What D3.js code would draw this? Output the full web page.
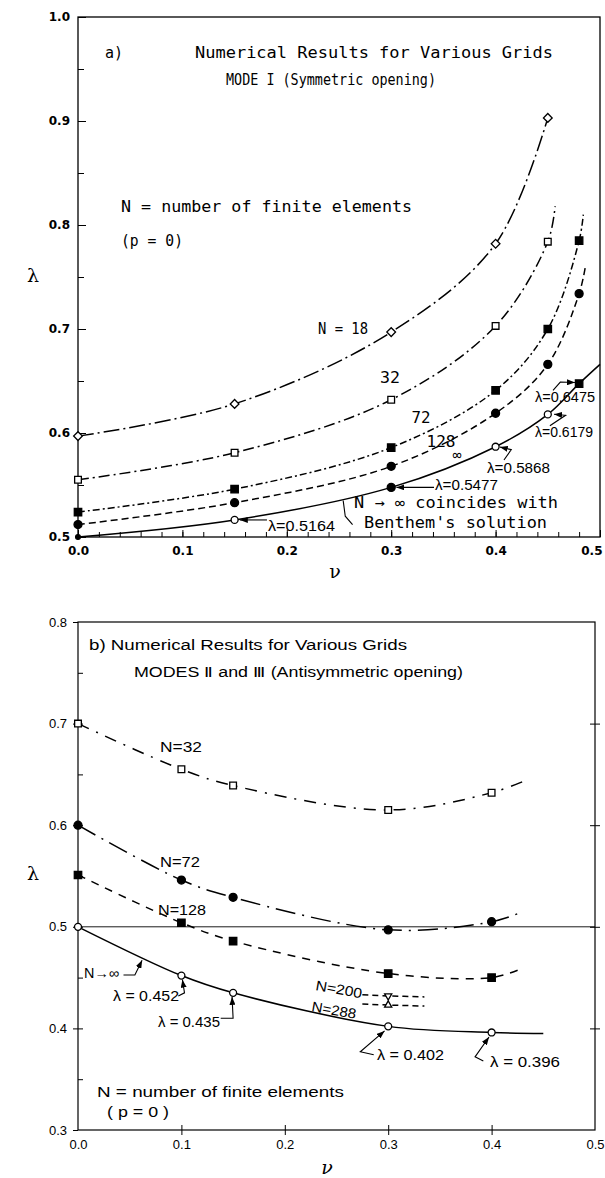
<!DOCTYPE html>
<html>
<head>
<meta charset="utf-8">
<script src="https://cdn.jsdelivr.net/npm/d3@7"></script>
<style>
  body { margin: 0; background: #fff; }
  svg { display: block; }
  .mono { font-family: "DejaVu Sans Mono", monospace; font-size: 15px; }
  .thin { font-family: "Liberation Sans", Arial, sans-serif; font-size: 14px; }
  .tickA text { font-family: "DejaVu Sans", sans-serif; font-weight: bold; font-size: 12px; }
  .tickB text { font-family: "Liberation Sans", Arial, sans-serif; font-size: 13px; }
</style>
</head>
<body>
<div id="chart"></div>
<script>
(function () {

  const width = 605
  const height = 1178

  // a) MODE I -- nu values where the grids were computed
  const nuA = [0, 0.15, 0.3, 0.4, 0.45, 0.48]
  const lamA18 = [0.597, 0.628, 0.697, 0.782, 0.903]
  const lamA32 = [0.555, 0.581, 0.632, 0.703, 0.784]
  const lamA72 = [0.524, 0.546, 0.586, 0.641, 0.700, 0.785]
  const lamA128 = [0.512, 0.533, 0.568, 0.619, 0.666, 0.734]
  const lamAinf = [0.5, 0.5164, 0.5477, 0.5868, 0.6179, 0.6475]
  // where the drawn curves run on past the last symbol
  const tailA32 = [0.457, 0.818]
  const tailA72 = [0.484, 0.81]
  const tailA128 = [0.486, 0.76]
  const tailAinf = [0.5, 0.666]
  const symAinf = ['dot', 'circleOpen', 'circleFilled', 'circleOpen', 'circleOpen', 'squareFilled']

  // b) MODES II and III
  const nuB = [0, 0.1, 0.15, 0.3, 0.4]
  const lamB32 = [0.700, 0.655, 0.639, 0.615, 0.632]
  const lamB72 = [0.600, 0.546, 0.529, 0.497, 0.505]
  const lamB128 = [0.551, 0.504, 0.486, 0.454, 0.450]
  const lamBinf = [0.5, 0.452, 0.435, 0.402, 0.396]
  const tailB32 = [0.435, 0.645]
  const tailB72 = [0.428, 0.514]
  const tailB128 = [0.427, 0.458]
  const tailBinf = [0.45, 0.395]
  const nuB200 = [0.275, 0.3, 0.335]
  const lamB200 = [0.433, 0.432, 0.431]
  const lamB288 = [0.424, 0.423, 0.422]
  const symB200 = [null, 'triDown', null]
  const symB288 = [null, 'triUp', null]

  const xTickLabels = [0, 0.1, 0.2, 0.3, 0.4, 0.5]

  const svg = d3.select("#chart").append("svg")
      .attr("width", width)
      .attr("height", height)

  svg.append("defs").append("marker")
      .attr("id", "arrow")
      .attr("markerUnits", "userSpaceOnUse")
      .attr("markerWidth", 8).attr("markerHeight", 6)
      .attr("refX", 8).attr("refY", 3)
      .attr("orient", "auto")
    .append("path")
      .attr("d", "M0,0L8,3L0,6Z")
      .attr("fill", "black")

  // scales for both panels
  const xA = d3.scaleLinear().domain([0, 0.5]).range([78, 600])
  const yA = d3.scaleLinear().domain([0.5, 1.0]).range([537, 17])
  const xB = d3.scaleLinear().domain([0, 0.5]).range([78, 595])
  const yB = d3.scaleLinear().domain([0.3, 0.8]).range([1130, 622])

  // type, size, filled, rotation
  const symbols = {
    diamond: [d3.symbolSquare, 38, false, 45],
    squareOpen: [d3.symbolSquare, 45, false, 0],
    squareFilled: [d3.symbolSquare, 55, true, 0],
    circleFilled: [d3.symbolCircle, 50, true, 0],
    circleOpen: [d3.symbolCircle, 38, false, 0],
    dot: [d3.symbolCircle, 18, true, 0],
    triDown: [d3.symbolTriangle, 22, false, 180],
    triUp: [d3.symbolTriangle, 22, false, 0]
  }

  function series (g, x, y, nus, lams, tail, dash, sym) {
    let pts = lams.map((l, i) => ({ v: nus[i], l: l, s: Array.isArray(sym) ? sym[i] : sym }))
    let line = pts.map(d => [d.v, d.l])
    if (tail) line.push(tail)
    g.append("path")
      .datum(line)
      .attr("d", d3.line().x(d => x(d[0])).y(d => y(d[1])).curve(d3.curveCatmullRom.alpha(0.5)))
      .attr("fill", "none")
      .attr("stroke", "black")
      .attr("stroke-width", 1.5)
      .attr("stroke-dasharray", dash)

    g.selectAll(null)
      .data(pts.filter(d => d.s))
      .join("path")
      .attr("transform", d => "translate(" + x(d.v) + "," + y(d.l) + ") rotate(" + symbols[d.s][3] + ")")
      .attr("d", d => d3.symbol().type(symbols[d.s][0]).size(symbols[d.s][1])())
      .attr("fill", d => symbols[d.s][2] ? "black" : "white")
      .attr("stroke", "black")
      .attr("stroke-width", 1.3)
  }

  function arrow (g, x, y, pts, head) {
    g.append("path")
      .datum(pts)
      .attr("d", d3.line().x(d => x(d[0])).y(d => y(d[1])))
      .attr("fill", "none")
      .attr("stroke", "black")
      .attr("stroke-width", 1.1)
      .attr("marker-end", head === false ? null : "url(#arrow)")
  }

  function label (g, cls, txt, x, y, len, anchor, rot) {
    let t = g.append("text")
      .attr("class", cls)
      .attr("x", x).attr("y", y)
      .attr("text-anchor", anchor || "start")
      .text(txt)
    if (len) t.attr("textLength", len).attr("lengthAdjust", "spacingAndGlyphs")
    if (rot) t.attr("transform", "rotate(" + rot + "," + x + "," + y + ")")
    return t
  }

  // ---------------- panel a ----------------
  const gA = svg.append("g")

  gA.append("g")
    .attr("class", "tickA")
    .attr("transform", "translate(0,537)")
    .call(d3.axisBottom(xA).tickValues(d3.range(0, 0.501, 0.02)).tickSize(-5).tickFormat(""))
    .call(g => g.select(".domain").remove())
  gA.append("g")
    .attr("class", "tickA")
    .attr("transform", "translate(0,537)")
    .call(d3.axisBottom(xA).tickValues(xTickLabels).tickSize(-7).tickPadding(9).tickFormat(d3.format(".1f")))
    .call(g => g.select(".domain").remove())
    .call(g => g.selectAll(".tick text").filter(d => d === 0.5).attr("text-anchor", "end").attr("dx", 2))
  gA.append("g")
    .attr("class", "tickA")
    .attr("transform", "translate(78,0)")
    .call(d3.axisLeft(yA).tickValues(d3.range(0.5, 1.001, 0.05)).tickSize(-6).tickFormat(""))
    .call(g => g.select(".domain").remove())
  gA.append("g")
    .attr("class", "tickA")
    .attr("transform", "translate(78,0)")
    .call(d3.axisLeft(yA).tickValues([0.5, 0.6, 0.7, 0.8, 0.9, 1.0]).tickSize(-8).tickPadding(8).tickFormat(d3.format(".1f")))
    .call(g => g.select(".domain").remove())

  gA.append("rect")
    .attr("x", xA(0)).attr("y", yA(1))
    .attr("width", xA(0.5) - xA(0)).attr("height", yA(0.5) - yA(1))
    .attr("fill", "none").attr("stroke", "black").attr("stroke-width", 1.3)

  series(gA, xA, yA, nuA, lamA18, null, "16,4,2,4", "diamond")
  series(gA, xA, yA, nuA, lamA32, tailA32, "11,4,2,4", "squareOpen")
  series(gA, xA, yA, nuA, lamA72, tailA72, "7,3,2,3", "squareFilled")
  series(gA, xA, yA, nuA, lamA128, tailA128, "7,4", "circleFilled")
  series(gA, xA, yA, nuA, lamAinf, tailAinf, null, symAinf)

  arrow(gA, xA, yA, [[0.455, 0.641], [0.462, 0.649], [0.476, 0.6485]])
  arrow(gA, xA, yA, [[0.452, 0.607], [0.467, 0.617], [0.456, 0.618]])
  arrow(gA, xA, yA, [[0.408, 0.574], [0.415, 0.584], [0.404, 0.5865]])
  arrow(gA, xA, yA, [[0.341, 0.5477], [0.305, 0.5477]])
  arrow(gA, xA, yA, [[0.181, 0.5164], [0.155, 0.5164]])
  arrow(gA, xA, yA, [[0.263, 0.512], [0.256, 0.52], [0.254, 0.535]], false)

  label(gA, "mono", "a)", 105, 58)
  label(gA, "mono", "Numerical Results for Various Grids", 195, 58, 358)
  label(gA, "mono", "MODE I (Symmetric opening)", 226, 85, 210)
  label(gA, "mono", "N = number of finite elements", 121, 212, 291)
  label(gA, "mono", "(p = 0)", 121, 246, 62)
  label(gA, "mono", "N = 18", 343, 334, 50, "middle")
  label(gA, "mono", "32", 390, 383, 20, "middle")
  label(gA, "mono", "72", 421, 423, 19, "middle")
  label(gA, "mono", "128", 441, 447, 29, "middle")
  label(gA, "mono", "∞", 457, 460, null, "middle")
  label(gA, "thin", "λ=0.6475", 535, 402, 60)
  label(gA, "thin", "λ=0.6179", 535, 437, 58)
  label(gA, "thin", "λ=0.5868", 487, 473, 63)
  label(gA, "thin", "λ=0.5477", 435, 490, 63)
  label(gA, "thin", "λ=0.5164", 268, 531, 67)
  label(gA, "mono", "N → ∞ coincides with", 354, 508, 204)
  label(gA, "mono", "Benthem's solution", 364, 528, 183)

  gA.append("text").attr("x", 33).attr("y", 282).attr("text-anchor", "middle")
    .style("font-family", "DejaVu Serif, serif").style("font-size", "19px").text("λ")
  gA.append("text").attr("x", 335).attr("y", 578).attr("text-anchor", "middle")
    .style("font-family", "DejaVu Serif, serif").style("font-size", "19px").text("ν")

  // ---------------- panel b ----------------
  const gB = svg.append("g")

  gB.append("line")
    .attr("x1", xB(0)).attr("x2", xB(0.5))
    .attr("y1", yB(0.5)).attr("y2", yB(0.5))
    .attr("stroke", "black").attr("stroke-width", 0.9)

  gB.append("g")
    .attr("class", "tickB")
    .attr("transform", "translate(0,1130)")
    .call(d3.axisBottom(xB).tickValues([0.1, 0.2, 0.3, 0.4]).tickSize(-5).tickFormat(""))
    .call(g => g.select(".domain").remove())
  gB.append("g")
    .attr("class", "tickB")
    .attr("transform", "translate(0,1130)")
    .call(d3.axisBottom(xB).tickValues(xTickLabels).tickSize(0).tickPadding(10).tickFormat(d3.format(".1f")))
    .call(g => g.select(".domain").remove())
  gB.append("g")
    .attr("class", "tickB")
    .attr("transform", "translate(0,1130)")
    .call(d3.axisBottom(xB).tickValues([0.1, 0.2, 0.3, 0.4]).tickSize(5).tickFormat(""))
    .call(g => g.select(".domain").remove())
  gB.append("g")
    .attr("class", "tickB")
    .attr("transform", "translate(78,0)")
    .call(d3.axisLeft(yB).tickValues(d3.range(0.35, 0.8, 0.05)).tickSize(-5).tickFormat(""))
    .call(g => g.select(".domain").remove())
  gB.append("g")
    .attr("class", "tickB")
    .attr("transform", "translate(78,0)")
    .call(d3.axisLeft(yB).tickValues([0.3, 0.4, 0.5, 0.6, 0.7, 0.8]).tickSize(5).tickPadding(6).tickFormat(d3.format(".1f")))
    .call(g => g.select(".domain").remove())
  gB.append("g")
    .attr("class", "tickB")
    .attr("transform", "translate(595,0)")
    .call(d3.axisRight(yB).tickValues([0.4, 0.5, 0.6, 0.7]).tickSize(5).tickFormat(""))
    .call(g => g.select(".domain").remove())
  gB.append("g")
    .attr("class", "tickB")
    .attr("transform", "translate(595,0)")
    .call(d3.axisRight(yB).tickValues([0.4, 0.5, 0.6, 0.7]).tickSize(-5).tickFormat(""))
    .call(g => g.select(".domain").remove())

  gB.append("rect")
    .attr("x", xB(0)).attr("y", yB(0.8))
    .attr("width", xB(0.5) - xB(0)).attr("height", yB(0.3) - yB(0.8))
    .attr("fill", "none").attr("stroke", "black").attr("stroke-width", 1.2)

  series(gB, xB, yB, nuB, lamB32, tailB32, "12,8,2,8", "squareOpen")
  series(gB, xB, yB, nuB, lamB72, tailB72, "20,7,2,7", "circleFilled")
  series(gB, xB, yB, nuB, lamB128, tailB128, "8,7", "squareFilled")
  series(gB, xB, yB, nuB, lamBinf, tailBinf, null, "circleOpen")
  series(gB, xB, yB, nuB200, lamB200, null, "6,4", symB200)
  series(gB, xB, yB, nuB200, lamB288, null, "6,4", symB288)

  arrow(gB, xB, yB, [[0.044, 0.4526], [0.055, 0.4526], [0.062, 0.467]])
  arrow(gB, xB, yB, [[0.097, 0.432], [0.103, 0.435], [0.101, 0.448]])
  arrow(gB, xB, yB, [[0.138, 0.41], [0.15, 0.41], [0.149, 0.431]])
  arrow(gB, xB, yB, [[0.286, 0.374], [0.273, 0.377], [0.2965, 0.3975]])
  arrow(gB, xB, yB, [[0.392, 0.368], [0.384, 0.372], [0.3975, 0.3915]])

  label(gB, "thin", "b) Numerical Results for Various Grids", 89, 650, 318)
  label(gB, "thin", "MODES Ⅱ and Ⅲ (Antisymmetric opening)", 134, 677, 329)
  label(gB, "thin", "N=32", 160, 752, 42)
  label(gB, "thin", "N=72", 160, 867, 40)
  label(gB, "thin", "N=128", 158, 915, 48)
  label(gB, "thin", "N=200", 315, 990, 47, "start", 10)
  label(gB, "thin", "N=288", 311, 1011, 45, "start", 10)
  label(gB, "thin", "N→∞", 84, 978, 35)
  label(gB, "thin", "λ = 0.452", 113, 1001, 66)
  label(gB, "thin", "λ = 0.435", 158, 1027, 62)
  label(gB, "thin", "λ = 0.402", 377, 1060, 67)
  label(gB, "thin", "λ = 0.396", 490, 1067, 70)
  label(gB, "thin", "N = number of finite elements", 97, 1097, 247)
  label(gB, "thin", "( p = 0 )", 107, 1117, 62)

  gB.append("text").attr("x", 33).attr("y", 880).attr("text-anchor", "middle")
    .style("font-family", "DejaVu Serif, serif").style("font-size", "19px").text("λ")
  gB.append("text").attr("x", 327).attr("y", 1174).attr("text-anchor", "middle")
    .style("font-family", "DejaVu Serif, serif").style("font-style", "italic").style("font-size", "19px").text("ν")

})();
</script>
</body>
</html>
